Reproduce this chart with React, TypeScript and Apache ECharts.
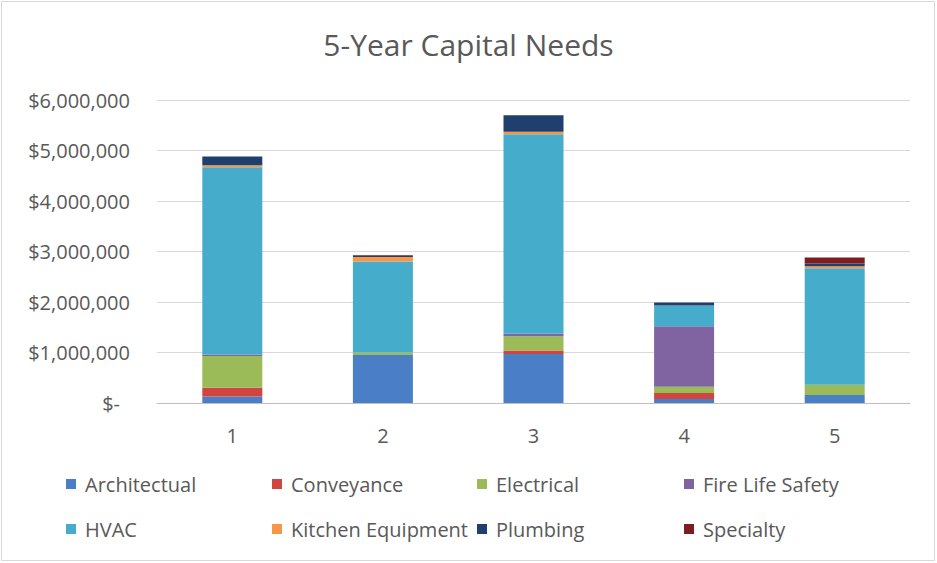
import React, { useEffect, useRef } from "react";
import * as echarts from "echarts";

const categories = ["1", "2", "3", "4", "5"];
const seriesNames = [
  "Architectual",
  "Conveyance",
  "Electrical",
  "Fire Life Safety",
  "HVAC",
  "Kitchen Equipment",
  "Plumbing",
  "Specialty",
];
const architectual = [130000, 950000, 970000, 80000, 160000];
const conveyance = [170000, 0, 70000, 120000, 0];
const electrical = [630000, 50000, 280000, 120000, 200000];
const fireLifeSafety = [30000, 0, 50000, 1200000, 0];
const hvac = [3710000, 1800000, 3950000, 410000, 2310000];
const kitchenEquipment = [40000, 90000, 50000, 0, 40000];
const plumbing = [170000, 30000, 330000, 60000, 50000];
const specialty = [0, 10000, 0, 0, 120000];
const seriesValues = [
  architectual,
  conveyance,
  electrical,
  fireLifeSafety,
  hvac,
  kitchenEquipment,
  plumbing,
  specialty,
];
const colors = [
  "#4A7EC7",
  "#D0453F",
  "#9BBB59",
  "#8064A2",
  "#45ADCB",
  "#F79646",
  "#1F3F6E",
  "#7A1E22",
];

const FONT = "'Open Sans', sans-serif";
const TEXT = "#595959";

export default function App() {
  const ref = useRef<HTMLDivElement>(null);
  useEffect(() => {
    document.body.style.margin = "0";
    const chart = echarts.init(ref.current!, null, { renderer: "svg" });
    const legendCols = [66, 272, 477, 684];
    const legendRows = [474, 519];
    const legends = seriesNames.map((n, i) => ({
      data: [n],
      left: legendCols[i % 4],
      top: legendRows[Math.floor(i / 4)],
      itemWidth: 10,
      itemHeight: 10,
      icon: "rect",
      padding: 0,
      textStyle: { fontFamily: FONT, fontSize: 20, color: TEXT, padding: [0, 0, 0, 4] },
    }));
    chart.setOption({
      animation: false,
      color: colors,
      title: {
        text: "5-Year Capital Needs",
        left: "center",
        top: 24,
        textStyle: { fontFamily: FONT, fontSize: 30, fontWeight: "normal", color: TEXT },
      },
      legend: legends,
      grid: { left: 157, right: 27, top: 100, bottom: 160 },
      xAxis: {
        type: "category",
        data: categories,
        axisTick: { show: false },
        axisLine: { lineStyle: { color: "#BFBFBF" } },
        axisLabel: { fontFamily: FONT, fontSize: 20, color: TEXT, margin: 22 },
      },
      yAxis: {
        type: "value",
        min: 0,
        max: 6000000,
        interval: 1000000,
        axisLine: { show: false },
        axisTick: { show: false },
        splitLine: { lineStyle: { color: "#D9D9D9" } },
        axisLabel: {
          fontFamily: FONT,
          fontSize: 20,
          color: TEXT,
          margin: 27,
          formatter: (v: number) =>
            v === 0 ? "{z|$-}" : "$" + v.toLocaleString("en-US"),
          rich: { z: { fontFamily: FONT, fontSize: 20, color: TEXT, padding: [0, 10, 0, 0] } },
        },
      },
      series: seriesNames.map((n, i) => ({
        name: n,
        type: "bar",
        stack: "total",
        barWidth: 60,
        data: seriesValues[i],
      })),
      graphic: [
        {
          type: "rect",
          shape: { x: 1.5, y: 1.5, width: 933, height: 559 },
          style: { fill: "none", stroke: "#D9D9D9", lineWidth: 1 },
        },
      ],
    });
    return () => chart.dispose();
  }, []);
  return (
    <div
      ref={ref}
      style={{ position: "absolute", left: 0, top: 0, width: 937, height: 563, background: "#fff" }}
    />
  );
}
